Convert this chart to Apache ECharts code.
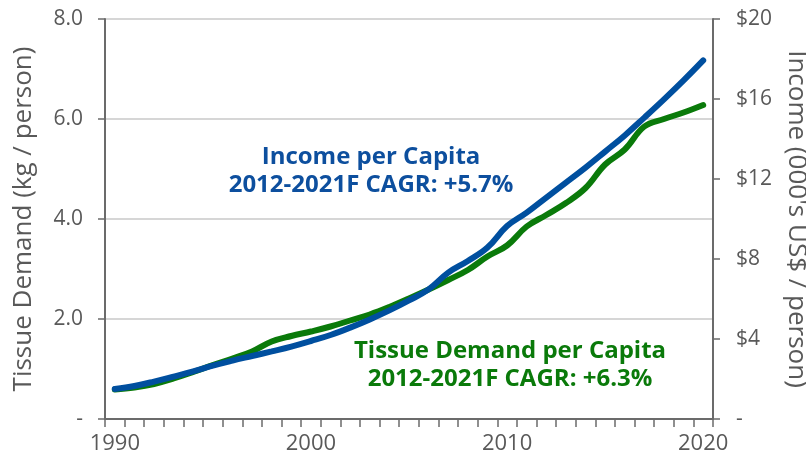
<!DOCTYPE html>
<html>
<head>
<meta charset="utf-8">
<script src="https://cdn.jsdelivr.net/npm/echarts@6/dist/echarts.min.js"></script>
<style>
html,body{margin:0;padding:0;background:#fff;}
#chart{width:806px;height:462px;}
</style>
</head>
<body>
<div id="chart"></div>
<script>
const years = ['1990','1991','1992','1993','1994','1995','1996','1997','1998','1999',
  '2000','2001','2002','2003','2004','2005','2006','2007','2008','2009',
  '2010','2011','2012','2013','2014','2015','2016','2017','2018','2019','2020'];
// Tissue demand per capita (kg / person) - left axis
const tissueDemand = [0.59,0.63,0.70,0.81,0.94,1.08,1.21,1.35,1.55,1.66,
  1.75,1.85,1.97,2.09,2.24,2.41,2.59,2.78,2.98,3.25,
  3.47,3.85,4.08,4.32,4.62,5.09,5.39,5.85,6.00,6.13,6.28];
// Income per capita (000's US$ / person) - right axis
const incomePerCapita = [1.50,1.65,1.87,2.12,2.38,2.67,2.92,3.15,3.38,3.62,
  3.90,4.20,4.57,4.98,5.43,5.93,6.48,7.32,7.90,8.57,
  9.65,10.32,11.07,11.82,12.57,13.37,14.18,15.07,15.98,16.93,17.93];
const leftTickLabels = ['-','2.0','4.0','6.0','8.0'];
const rightTickLabels = ['-','$4','$8','$12','$16','$20'];
const incomeNote = ['Income per Capita','2012-2021F CAGR: +5.7%'];
const tissueNote = ['Tissue Demand per Capita','2012-2021F CAGR: +6.3%'];

const FONT = '"Open Sans", "Noto Sans", sans-serif';
const GRAY = '#595959';
const AXIS = '#6b6b6b';
const BLUE = '#004f9f';
const GREEN = '#0a7a0a';

const chart = echarts.init(document.getElementById('chart'), null, {renderer:'canvas'});
chart.setOption({
  animation:false,
  backgroundColor:'#fff',
  grid:{left:105,right:93,top:19,bottom:43,containLabel:false,outerBoundsMode:'none'},
  textStyle:{fontFamily:FONT},
  xAxis:{
    type:'category', data:years, boundaryGap:true,
    axisLine:{lineStyle:{color:AXIS,width:2}},
    axisTick:{show:true,interval:0,length:8,lineStyle:{color:AXIS,width:1.5}},
    axisLabel:{interval:9,color:GRAY,fontSize:22,fontFamily:FONT,margin:14},
    splitLine:{show:false}
  },
  yAxis:[{
    type:'value', min:0, max:8, interval:2, position:'left',
    name:'Tissue Demand (kg / person)', nameLocation:'middle', nameGap:68, nameRotate:90,
    nameTextStyle:{color:GRAY,fontSize:26,fontFamily:FONT},
    axisLine:{show:true,lineStyle:{color:AXIS,width:2}},
    axisTick:{show:true,length:7,lineStyle:{color:AXIS,width:1.5}},
    axisLabel:{color:GRAY,fontSize:21,fontFamily:FONT,margin:22,
      formatter:(v)=>leftTickLabels[Math.round(v/2)]},
    splitLine:{show:true,lineStyle:{color:'#c8c8c8',width:1.5}}
  },{
    type:'value', min:0, max:20, interval:4, position:'right',
    name:"Income (000's US$ / person)", nameLocation:'middle', nameGap:64, nameRotate:-90,
    nameTextStyle:{color:GRAY,fontSize:26,fontFamily:FONT},
    axisLine:{show:true,lineStyle:{color:AXIS,width:2}},
    axisTick:{show:true,length:7,lineStyle:{color:AXIS,width:1.5}},
    axisLabel:{color:GRAY,fontSize:21,fontFamily:FONT,margin:23,
      formatter:(v)=>rightTickLabels[Math.round(v/4)]},
    splitLine:{show:false}
  }],
  series:[{
    name:'Tissue Demand', type:'line', yAxisIndex:0, data:tissueDemand,
    smooth:0.4, symbol:'none', lineStyle:{color:GREEN,width:6,cap:'round'}
  },{
    name:'Income', type:'line', yAxisIndex:1, data:incomePerCapita,
    smooth:0.4, symbol:'none', lineStyle:{color:BLUE,width:6,cap:'round'}
  }],
  graphic:[
    {type:'text', x:371, y:157, style:{text:incomeNote[0], fill:'#0d4f9e', font:'bold 24px '+FONT, textAlign:'center', textVerticalAlign:'middle'}},
    {type:'text', x:371, y:185, style:{text:incomeNote[1], fill:'#0d4f9e', font:'bold 24px '+FONT, textAlign:'center', textVerticalAlign:'middle'}},
    {type:'text', x:510, y:351, style:{text:tissueNote[0], fill:'#0a7a0a', font:'bold 24px '+FONT, textAlign:'center', textVerticalAlign:'middle'}},
    {type:'text', x:510, y:379, style:{text:tissueNote[1], fill:'#0a7a0a', font:'bold 24px '+FONT, textAlign:'center', textVerticalAlign:'middle'}}
  ]
});
</script>
</body>
</html>
